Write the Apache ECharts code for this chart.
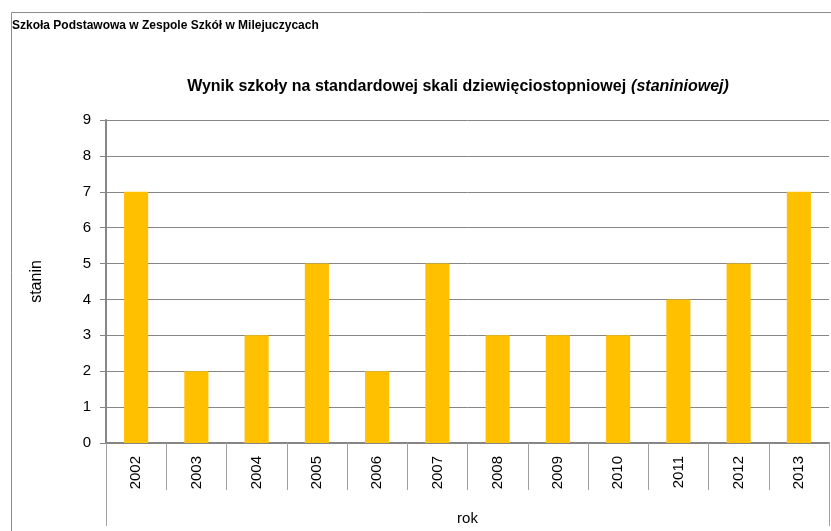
<!DOCTYPE html>
<html>
<head>
<meta charset="utf-8">
<script src="https://cdn.jsdelivr.net/npm/echarts@6/dist/echarts.min.js"></script>
<style>
  html, body { margin: 0; padding: 0; background: #fff; }
  #chart { width: 831px; height: 531px; }
</style>
</head>
<body>
<div id="chart"></div>
<script>
var years = ["2002", "2003", "2004", "2005", "2006", "2007", "2008", "2009", "2010", "2011", "2012", "2013"];
var stanin = [7, 2, 3, 5, 2, 5, 3, 3, 3, 4, 5, 7];
var yTicks = { min: 0, max: 9, step: 1 };

var chartDom = document.getElementById("chart");
var myChart = echarts.init(chartDom);
var font = "'Liberation Sans', Arial, sans-serif";
var axisGray = "#868686";

var option = {
  animation: false,
  textStyle: { fontFamily: font },
  graphic: [
    {
      type: "rect",
      left: 9,
      top: 10,
      shape: { width: 840, height: 600 },
      style: { fill: "none", stroke: "#8c8c8c", lineWidth: 1 },
      silent: true,
    },
  ],
  title: [
    {
      text: "Szkoła Podstawowa w Zespole Szkół w Milejuczycach",
      left: 12,
      top: 20,
      padding: 0,
      textStyle: { fontSize: 12, fontWeight: "bold", color: "#000", fontFamily: font },
    },
    {
      text: "{b|Wynik szkoły na standardowej skali dziewięciostopniowej} {i|(staniniowej)}",
      left: 458,
      top: 78,
      padding: 0,
      textAlign: "center",
      textStyle: {
        rich: {
          b: { fontSize: 16, fontWeight: "bold", color: "#000", fontFamily: font },
          i: { fontSize: 16, fontStyle: "italic", color: "#000", fontFamily: font },
        },
      },
    },
  ],
  grid: { left: 106, top: 120, right: 2, bottom: 88 },
  xAxis: [
    {
      type: "category",
      data: years,
      position: "bottom",
      name: "rok",
      nameLocation: "middle",
      nameGap: 68,
      nameTextStyle: { fontSize: 15, color: "#000" },
      axisLine: { show: true, lineStyle: { color: axisGray, width: 2 } },
      axisTick: { show: true, length: 47, lineStyle: { color: "#a0a0a0", width: 1 } },
      axisLabel: { rotate: 90, fontSize: 15, color: "#000", margin: 13 },
    },
    {
      type: "category",
      data: [""],
      position: "bottom",
      axisLine: { show: false },
      axisTick: { show: true, length: 83, lineStyle: { color: "#a0a0a0", width: 1 } },
      axisLabel: { show: false },
    },
  ],
  yAxis: {
    type: "value",
    min: yTicks.min,
    max: yTicks.max,
    interval: yTicks.step,
    name: "stanin",
    nameLocation: "middle",
    nameGap: 61,
    nameTextStyle: { fontSize: 16, color: "#000" },
    axisLine: { show: true, lineStyle: { color: axisGray, width: 2 } },
    axisTick: { show: true, length: 6, lineStyle: { color: axisGray } },
    axisLabel: { fontSize: 15, color: "#000", margin: 15 },
    splitLine: { show: true, lineStyle: { color: axisGray, width: 1 } },
  },
  series: [
    {
      type: "bar",
      data: stanin,
      barWidth: "40%",
      itemStyle: { color: "#FFC000" },
    },
  ],
};

option && myChart.setOption(option);
</script>
</body>
</html>
